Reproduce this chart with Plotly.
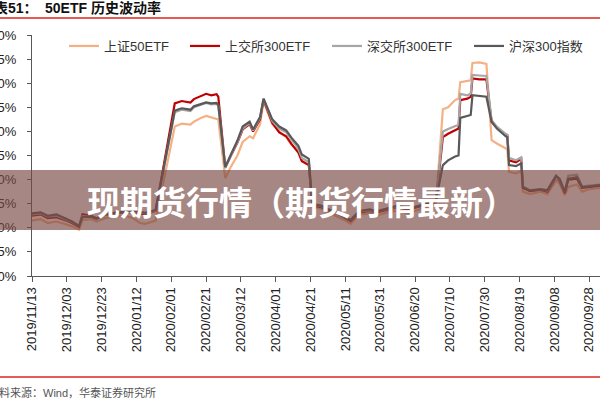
import plotly.graph_objects as go

dates = [
    "2019-11-13", "2019-11-18", "2019-11-22", "2019-11-27", "2019-12-02", "2019-12-06",
    "2019-12-10", "2019-12-12", "2019-12-17", "2019-12-20", "2019-12-25", "2019-12-30",
    "2020-01-06", "2020-01-10", "2020-01-14", "2020-01-17", "2020-01-23", "2020-02-03",
    "2020-02-07", "2020-02-12", "2020-02-14", "2020-02-18", "2020-02-21", "2020-02-24",
    "2020-02-27", "2020-02-28", "2020-03-03", "2020-03-06", "2020-03-10", "2020-03-13",
    "2020-03-17", "2020-03-19", "2020-03-23", "2020-03-25", "2020-03-30", "2020-04-03",
    "2020-04-07", "2020-04-10", "2020-04-14", "2020-04-16", "2020-04-20", "2020-04-22",
    "2020-04-27", "2020-04-30", "2020-05-07", "2020-05-11", "2020-05-14", "2020-05-19",
    "2020-05-25", "2020-05-29", "2020-06-04", "2020-06-10", "2020-06-16", "2020-06-22",
    "2020-06-29", "2020-07-02", "2020-07-06", "2020-07-09", "2020-07-13", "2020-07-15",
    "2020-07-16", "2020-07-20", "2020-07-22", "2020-07-23", "2020-07-27", "2020-07-31",
    "2020-08-03", "2020-08-06", "2020-08-11", "2020-08-12", "2020-08-13", "2020-08-17",
    "2020-08-20", "2020-08-21", "2020-08-25", "2020-08-31", "2020-09-04", "2020-09-09",
    "2020-09-11", "2020-09-14", "2020-09-16", "2020-09-21", "2020-09-24", "2020-09-28",
    "2020-10-05",
]

sz50_etf = [
    11.5, 11.8, 11.0, 11.3, 10.8, 10.3, 9.6, 11.6, 11.8, 11.3, 12.0, 12.3,
    12.5, 12.0, 11.0, 10.8, 11.5, 31.0, 31.6, 31.4, 32.0, 32.8, 33.2, 32.9,
    32.7, 32.5, 20.3, 22.5, 25.0, 27.8, 29.0, 28.6, 31.5, 36.2, 31.5, 30.0,
    28.8, 27.2, 25.8, 24.0, 23.0, 14.2, 14.0, 13.4, 12.2, 11.5, 10.8, 12.8,
    13.0, 12.6, 13.2, 13.6, 13.0, 13.8, 14.6, 15.0, 34.6, 35.0, 36.5, 36.8,
    40.2, 40.5, 40.6, 44.2, 44.3, 44.0, 28.2, 27.5, 26.5, 26.3, 21.6, 21.3,
    21.8, 17.5, 17.0, 17.5, 17.0, 19.8, 19.2, 16.8, 18.5, 19.0, 17.5, 18.0,
    18.3,
]

sse300_etf = [
    12.5, 12.8, 12.0, 12.2, 11.6, 11.0, 10.2, 12.8, 12.5, 12.0, 12.8, 13.0,
    13.2, 13.3, 13.0, 12.8, 13.5, 35.8, 36.3, 36.0, 36.7, 37.4, 37.8, 37.5,
    37.7, 37.2, 22.5, 24.8, 27.7, 30.4, 31.5, 30.0, 32.5, 36.6, 31.8, 29.8,
    29.0, 27.4, 25.6, 23.8, 23.0, 14.6, 14.3, 13.8, 12.8, 12.0, 11.4, 13.2,
    13.5, 13.2, 13.8, 14.3, 13.8, 14.3, 15.0, 15.4, 28.8, 29.5, 30.3, 30.6,
    36.5, 36.8, 37.2, 41.0, 40.8, 40.8, 32.0, 30.8, 29.3, 29.2, 24.0, 23.6,
    24.3, 18.3, 17.6, 17.9, 17.5, 20.5, 19.8, 17.2, 20.0, 20.2, 18.3, 18.5,
    18.8,
]

szse300_etf = [
    12.8, 13.0, 12.3, 12.5, 11.8, 11.2, 10.4, 12.4, 12.3, 11.8, 12.6, 13.0,
    13.3, 13.4, 13.2, 13.0, 13.5, 34.0, 34.5, 34.2, 35.0, 35.5, 35.9, 35.6,
    35.7, 35.3, 22.4, 24.8, 27.8, 30.6, 31.7, 30.2, 32.8, 36.8, 32.2, 30.6,
    29.8, 28.3, 26.4, 24.5, 23.6, 14.8, 14.5, 13.9, 12.9, 12.2, 11.6, 13.4,
    13.6, 13.4, 13.9, 14.4, 14.0, 14.5, 15.2, 15.5, 30.0, 30.5, 31.2, 31.4,
    37.8, 37.5, 37.8, 41.7, 41.6, 41.5, 32.3, 31.0, 29.5, 29.3, 24.5, 24.0,
    24.6, 18.6, 17.8, 18.0, 17.7, 20.6, 20.0, 17.4, 20.8, 21.0, 18.6, 18.8,
    19.0,
]

hs300_index = [
    13.0, 13.2, 12.5, 12.8, 12.0, 11.3, 10.4, 12.2, 12.3, 11.9, 12.7, 13.1,
    13.4, 13.6, 13.3, 13.1, 13.7, 34.3, 34.8, 34.5, 35.2, 35.7, 36.0, 35.8,
    35.9, 35.5, 22.6, 25.0, 28.1, 31.0, 32.0, 30.4, 33.0, 36.8, 32.5, 31.0,
    30.2, 28.7, 27.0, 25.2, 24.3, 14.9, 14.6, 14.0, 13.0, 12.2, 11.6, 13.5,
    13.8, 13.4, 14.0, 14.6, 14.0, 14.5, 15.3, 15.6, 23.0, 24.0, 24.8, 25.0,
    32.8, 33.2, 33.4, 37.5, 37.4, 37.2, 32.0, 30.6, 29.0, 28.8, 23.0, 22.8,
    23.4, 18.4, 17.7, 18.0, 17.8, 20.8, 20.2, 17.5, 20.2, 20.5, 18.4, 18.6,
    18.9,
]

series_names = ["上证50ETF", "上交所300ETF", "深交所300ETF", "沪深300指数"]
series_values = [sz50_etf, sse300_etf, szse300_etf, hs300_index]
series_colors = ["#F4B183", "#C00000", "#A6A6A6", "#595959"]

title_prefix = "图表51："
title_text = "50ETF 历史波动率"
source_text = "资料来源：Wind，华泰证券研究所"
banner_text = "现期货行情（期货行情最新）"

W, H = 600, 400
L, R, T, B = 32, 0, 35, 124
PW = W - L - R
PH = H - T - B


def px_x(px):
    return (px - L) / PW


def px_y(py):
    return (H - B - py) / PH


fig = go.Figure()
legend_ids = ["legend", "legend2", "legend3", "legend4"]
legend_starts = [64, 185, 327, 469]
for name, vals, col, lid in zip(series_names, series_values, series_colors, legend_ids):
    fig.add_trace(go.Scatter(
        x=dates, y=vals, mode="lines", name=name,
        line=dict(color=col, width=2.2), legend=lid,
    ))

font_main = "Liberation Sans, Arial, Noto Sans CJK SC"
legend_cfg = {}
for lid, sx in zip(legend_ids, legend_starts):
    legend_cfg[lid] = dict(
        x=px_x(sx), xanchor="left", y=px_y(31), yanchor="top",
        orientation="h", bgcolor="rgba(0,0,0,0)",
        font=dict(family=font_main, size=13, color="#333333"),
    )

fig.update_layout(
    width=W, height=H,
    margin=dict(l=L, r=R, t=T, b=B, autoexpand=False),
    plot_bgcolor="white", paper_bgcolor="white",
    showlegend=True,
    **legend_cfg,
    xaxis=dict(
        type="date",
        range=["2019-11-13", "2020-10-04 06:00"],
        tick0="2019-11-13", dtick=20 * 86400000,
        tickformat="%Y/%m/%d", tickangle=-90,
        showgrid=False, zeroline=False,
        showline=True, linecolor="#595959", linewidth=1,
        ticks="outside", ticklen=5, tickcolor="#595959",
        tickfont=dict(family=font_main, size=13, color="#222222"),
        automargin=False,
    ),
    yaxis=dict(
        range=[0, 50], tick0=0, dtick=5, ticksuffix="%",
        showgrid=False, zeroline=False,
        showline=True, linecolor="#595959", linewidth=1,
        ticks="outside", ticklen=4, tickcolor="#595959",
        tickfont=dict(family=font_main, size=13, color="#222222"),
        ticklabelstandoff=8,
        automargin=False,
    ),
    shapes=[
        dict(type="line", xref="paper", yref="paper",
             x0=px_x(0), x1=px_x(600), y0=px_y(18), y1=px_y(18),
             line=dict(color="#D9261C", width=1.5)),
        dict(type="line", xref="paper", yref="paper",
             x0=px_x(0), x1=px_x(600), y0=px_y(377), y1=px_y(377),
             line=dict(color="#D9261C", width=1.5)),
        dict(type="rect", xref="paper", yref="paper", layer="above",
             x0=px_x(0), x1=px_x(600), y0=px_y(230), y1=px_y(170),
             fillcolor="rgba(120,70,65,0.65)", line=dict(width=0)),
    ],
    annotations=[
        dict(text="<b>" + title_prefix + "</b>", xref="paper", yref="paper",
             x=px_x(-22), y=px_y(8), xanchor="left", yanchor="middle",
             showarrow=False,
             font=dict(family="Liberation Sans, Noto Sans CJK SC", size=14, color="#111111")),
        dict(text="<b>" + title_text + "</b>", xref="paper", yref="paper",
             x=px_x(43), y=px_y(8), xanchor="left", yanchor="middle",
             showarrow=False,
             font=dict(family="Liberation Sans, Noto Sans CJK SC", size=14, color="#111111")),
        dict(text=source_text, xref="paper", yref="paper",
             x=px_x(-14), y=px_y(392), xanchor="left", yanchor="middle",
             showarrow=False,
             font=dict(family="Liberation Sans, Noto Sans CJK SC", size=11, color="#555555")),
        dict(text="<b>" + banner_text + "</b>", xref="paper", yref="paper",
             x=px_x(301), y=px_y(201), xanchor="center", yanchor="middle",
             showarrow=False,
             font=dict(family="Noto Sans CJK SC", size=33, color="white")),
    ],
)

fig.write_html("out.html")
